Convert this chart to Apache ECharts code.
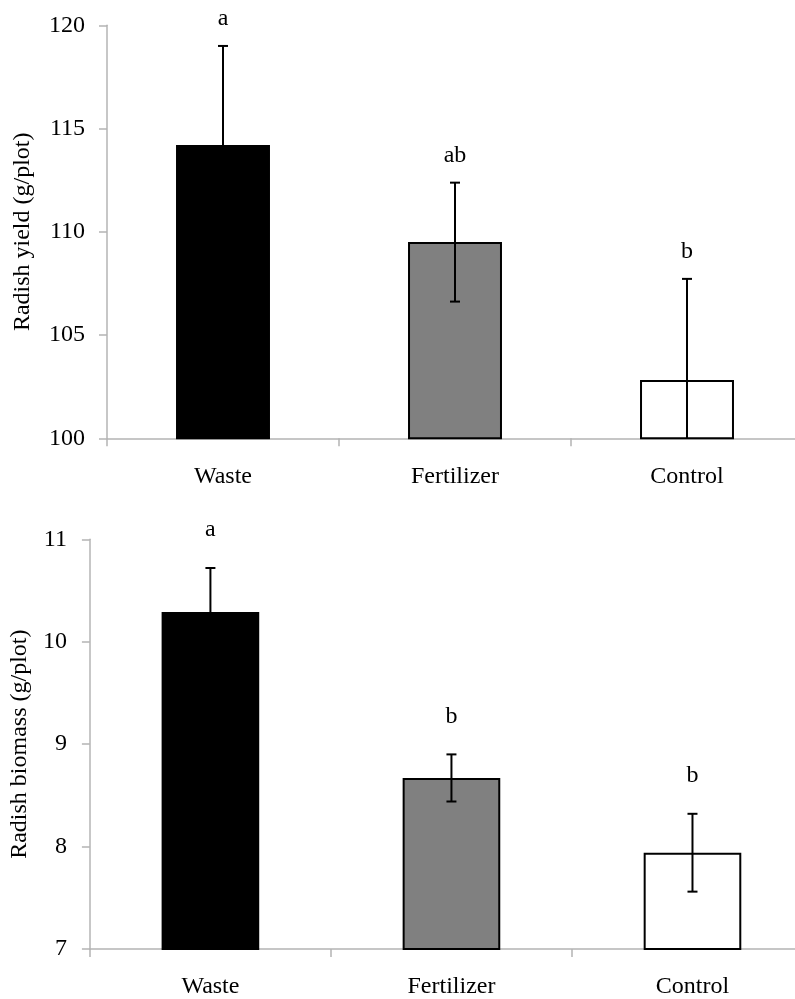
<!DOCTYPE html>
<html>
<head>
<meta charset="utf-8">
<script src="https://cdn.jsdelivr.net/npm/echarts@6/dist/echarts.min.js"></script>
<style>
html,body{margin:0;padding:0;background:#fff;overflow:hidden;}
#c{width:830px;height:999px;}
</style>
</head>
<body>
<div id="c"></div>
<script>
const categories = ['Waste', 'Fertilizer', 'Control'];
const barColors = ['#000000', '#808080', '#ffffff'];
const yieldMeans = [114.2, 109.5, 102.82];
const yieldErrors = [4.8, 2.88, 4.9];
const yieldLetters = ['a', 'ab', 'b'];
const biomassMeans = [10.29, 8.67, 7.94];
const biomassErrors = [0.43, 0.23, 0.38];
const biomassLetters = ['a', 'b', 'b'];

const FONT = '"Liberation Serif", "Times New Roman", serif';
const AXIS_COLOR = '#b4b4b4';

function errRender(letters, letterGap, yMin) {
  return function (params, api) {
    const i = api.value(0);
    const mean = api.value(1);
    const err = api.value(2);
    const hi = api.coord([i, mean + err]);
    const lowVal = Math.max(mean - err, yMin);
    const lo = api.coord([i, lowVal]);
    const cap = 5;
    const st = { stroke: '#000', lineWidth: 2 };
    const children = [
      { type: 'line', shape: { x1: hi[0], y1: hi[1], x2: lo[0], y2: lo[1] }, style: st },
      { type: 'line', shape: { x1: hi[0] - cap, y1: hi[1], x2: hi[0] + cap, y2: hi[1] }, style: st }
    ];
    if (mean - err >= yMin) {
      children.push({ type: 'line', shape: { x1: lo[0] - cap, y1: lo[1], x2: lo[0] + cap, y2: lo[1] }, style: st });
    }
    children.push({
      type: 'text',
      style: {
        text: letters[params.dataIndex], x: hi[0], y: hi[1] - letterGap,
        align: 'center', verticalAlign: 'middle',
        fontSize: 24, fontFamily: FONT, fill: '#000'
      }
    });
    return { type: 'group', children: children };
  };
}

function barData(means) {
  return means.map((v, i) => ({
    value: v,
    itemStyle: { color: barColors[i], borderColor: '#000', borderWidth: 2 }
  }));
}

function xAxisCfg(gridIndex) {
  return {
    type: 'category', gridIndex: gridIndex, data: categories,
    axisLine: { lineStyle: { color: AXIS_COLOR, width: 1.5 } },
    axisTick: { show: true, length: 8, lineStyle: { color: AXIS_COLOR, width: 1.5 } },
    axisLabel: { color: '#000', fontSize: 24, fontFamily: FONT, margin: 26 }
  };
}

function yAxisCfg(gridIndex, min, max, interval, name, gap, margin) {
  return {
    type: 'value', gridIndex: gridIndex, min: min, max: max, interval: interval,
    name: name, nameLocation: 'middle', nameGap: gap, nameRotate: 90,
    nameTextStyle: { color: '#000', fontSize: 24, fontFamily: FONT },
    axisLine: { show: true, lineStyle: { color: AXIS_COLOR, width: 1.5 } },
    axisTick: { show: true, length: 8, lineStyle: { color: AXIS_COLOR, width: 1.5 } },
    axisLabel: { color: '#000', fontSize: 24, fontFamily: FONT, margin: margin },
    splitLine: { show: false }
  };
}

const chart = echarts.init(document.getElementById('c'), null, { renderer: 'canvas' });
chart.setOption({
  animation: false,
  backgroundColor: '#fff',
  grid: [
    { left: 107, top: 25.3, width: 696, height: 413 },
    { left: 88, top: 539.3, width: 725, height: 411.4 }
  ],
  xAxis: [xAxisCfg(0), xAxisCfg(1)],
  yAxis: [
    yAxisCfg(0, 100, 120, 5, 'Radish yield (g/plot)', 72, 22),
    yAxisCfg(1, 7, 11, 1, 'Radish biomass (g/plot)', 56, 23)
  ],
  series: [
    { type: 'bar', xAxisIndex: 0, yAxisIndex: 0, barWidth: '40.5%', data: barData(yieldMeans), z: 2 },
    { type: 'custom', xAxisIndex: 0, yAxisIndex: 0, z: 5,
      renderItem: errRender(yieldLetters, 27, 100),
      data: categories.map((c, i) => [i, yieldMeans[i], yieldErrors[i]]) },
    { type: 'bar', xAxisIndex: 1, yAxisIndex: 1, barWidth: '40.5%', data: barData(biomassMeans), z: 2 },
    { type: 'custom', xAxisIndex: 1, yAxisIndex: 1, z: 5,
      renderItem: errRender(biomassLetters, 38, 7),
      data: categories.map((c, i) => [i, biomassMeans[i], biomassErrors[i]]) }
  ]
});
</script>
</body>
</html>
